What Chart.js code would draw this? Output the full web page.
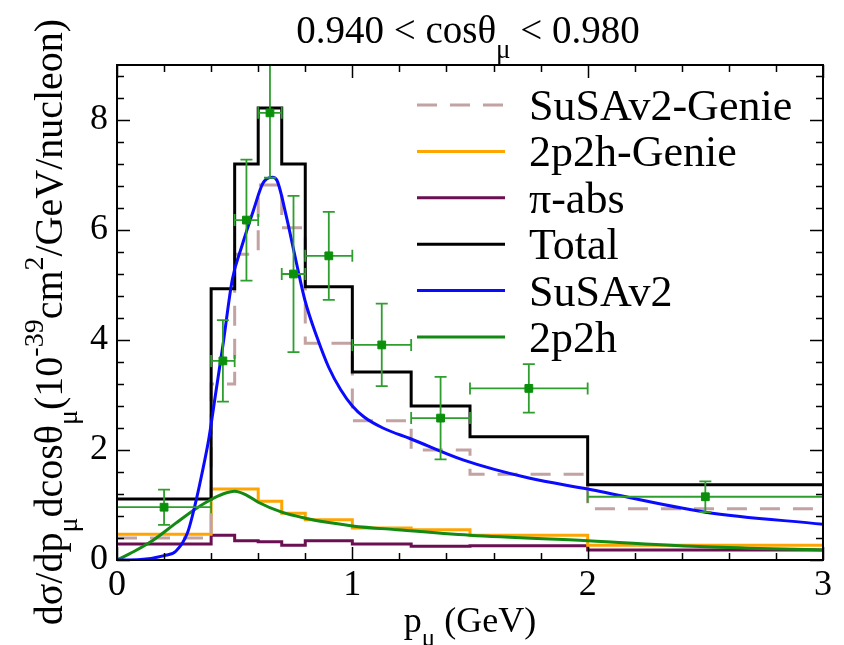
<!DOCTYPE html>
<html>
<head>
<meta charset="utf-8">
<script src="https://cdn.jsdelivr.net/npm/chart.js@4.4.1/dist/chart.umd.min.js"></script>
<style>
  html, body { margin: 0; padding: 0; background: #fff; }
  #wrap { width: 844px; height: 645px; }
</style>
</head>
<body>
<div id="wrap"><canvas id="chart" width="844" height="645"></canvas></div>
<script>
// histogram bin edges (GeV) and per-bin values
const binEdges = [0, 0.4, 0.5, 0.6, 0.7, 0.8, 1.0, 1.25, 1.5, 2.0, 3.0];
const totalHist = [1.11, 4.93, 7.2, 8.22, 7.2, 4.97, 3.42, 2.8, 2.24, 1.37];
const susaGenieHist = [0.4, 3.2, 5.56, 6.82, 6.04, 3.94, 2.53, 2.0, 1.56, 0.93];
const mecGenieHist = [0.47, 1.29, 1.29, 1.07, 0.85, 0.73, 0.58, 0.55, 0.45, 0.27];
const piAbsHist = [0.29, 0.45, 0.35, 0.33, 0.27, 0.35, 0.29, 0.25, 0.26, 0.18];

// smooth curves
const susaX = [0, 0.1, 0.2, 0.25, 0.3, 0.33, 0.36, 0.39, 0.42, 0.45, 0.49, 0.53, 0.58, 0.62, 0.66, 0.68, 0.72, 0.76, 0.8, 0.85, 0.9, 0.95, 1.0, 1.05, 1.13, 1.25, 1.47, 1.75, 2.0, 2.5, 3.0];
const susaY = [0, 0.01, 0.08, 0.16, 0.5, 0.97, 1.55, 2.2, 3.05, 3.9, 5.1, 5.7, 6.36, 6.85, 6.96, 6.9, 6.24, 5.45, 4.7, 4.05, 3.5, 3.1, 2.8, 2.6, 2.4, 2.2, 1.82, 1.49, 1.29, 0.87, 0.65];
const mecX = [0, 0.07, 0.15, 0.25, 0.33, 0.4, 0.45, 0.5, 0.55, 0.6, 0.7, 0.8, 0.9, 1.0, 1.19, 1.5, 2.0, 2.5, 3.0];
const mecY = [0, 0.15, 0.35, 0.67, 0.92, 1.1, 1.2, 1.25, 1.18, 1.05, 0.87, 0.76, 0.68, 0.62, 0.55, 0.45, 0.35, 0.24, 0.18];

// measured points
const dataX = [0.2, 0.45, 0.55, 0.65, 0.75, 0.9, 1.125, 1.375, 1.75, 2.5];
const dataY = [0.96, 3.62, 6.18, 8.13, 5.2, 5.53, 3.91, 2.58, 3.12, 1.15];
const dataYErr = [0.32, 0.74, 1.1, 1.18, 1.42, 0.8, 0.75, 0.75, 0.44, 0.28];
const dataXLo = [0, 0.4, 0.5, 0.6, 0.7, 0.8, 1.0, 1.25, 1.5, 2.0];
const dataXHi = [0.4, 0.5, 0.6, 0.7, 0.8, 1.0, 1.25, 1.5, 2.0, 3.0];

const serif = 'Liberation Serif';

const histPoints = (vals) => binEdges.map((e, i) => ({ x: e, y: vals[Math.min(i, vals.length - 1)] }));
const curvePoints = (xs, ys) => xs.map((x, i) => ({ x: x, y: ys[i] }));

// rich text: [text, 0 normal | 1 sub | 2 sup]
function segFont(size, mode) {
	return (mode ? Math.round(size * 0.7) : size) + 'px "' + serif + '"';
}
function richWidth(ctx, segs, size) {
	let w = 0;
	segs.forEach(s => { ctx.font = segFont(size, s[1]); w += ctx.measureText(s[0]).width; });
	return w;
}
function drawRich(ctx, segs, x, y, size) {
	let cx = x - richWidth(ctx, segs, size) / 2;
	ctx.textAlign = 'left';
	ctx.textBaseline = 'alphabetic';
	segs.forEach(s => {
		ctx.font = segFont(size, s[1]);
		let dy = 0;
		if (s[1] === 1) dy = size * 0.38;
		if (s[1] === 2) dy = -size * 0.48;
		ctx.fillText(s[0], cx, y + dy);
		cx += ctx.measureText(s[0]).width;
	});
}

const decor = {
	id: 'decor',
	beforeDatasetDraw(chart, args) {
		const ds = chart.data.datasets[args.index];
		if (!ds.isData) return;
		const ctx = chart.ctx;
		const xs = chart.scales.x, ys = chart.scales.y;
		const a = chart.chartArea;
		ctx.save();
		ctx.beginPath();
		ctx.rect(a.left, a.top, a.right - a.left, a.bottom - a.top);
		ctx.clip();
		ctx.strokeStyle = '#2e9e2e';
		ctx.lineWidth = 1.8;
		const cap = 6;
		dataX.forEach((x, i) => {
			const px = xs.getPixelForValue(x);
			const py = ys.getPixelForValue(dataY[i]);
			const yTop = ys.getPixelForValue(dataY[i] + dataYErr[i]);
			const yBot = ys.getPixelForValue(dataY[i] - dataYErr[i]);
			const xL = xs.getPixelForValue(dataXLo[i]);
			const xR = xs.getPixelForValue(dataXHi[i]);
			ctx.beginPath();
			ctx.moveTo(px, yTop); ctx.lineTo(px, yBot);
			ctx.moveTo(px - cap, yTop); ctx.lineTo(px + cap, yTop);
			ctx.moveTo(px - cap, yBot); ctx.lineTo(px + cap, yBot);
			ctx.moveTo(xL, py); ctx.lineTo(xR, py);
			ctx.moveTo(xL, py - cap); ctx.lineTo(xL, py + cap);
			ctx.moveTo(xR, py - cap); ctx.lineTo(xR, py + cap);
			ctx.stroke();
		});
		ctx.restore();
	},
	afterDraw(chart) {
		const ctx = chart.ctx;
		const a = chart.chartArea;
		const xs = chart.scales.x, ys = chart.scales.y;
		ctx.save();
		// frame and inward ticks
		ctx.strokeStyle = '#000';
		ctx.lineWidth = 2;
		ctx.strokeRect(a.left, a.top, a.right - a.left, a.bottom - a.top);
		ctx.lineWidth = 1.5;
		ctx.beginPath();
		for (let v = 0; v <= 3.001; v += 0.2) {
			const px = Math.round(xs.getPixelForValue(v)) + 0.5;
			const len = Math.abs(v - Math.round(v)) < 0.01 ? 13 : 7;
			ctx.moveTo(px, a.bottom); ctx.lineTo(px, a.bottom - len);
			ctx.moveTo(px, a.top); ctx.lineTo(px, a.top + len);
		}
		for (let v = 0; v <= 9.001; v += 0.4) {
			const py = Math.round(ys.getPixelForValue(v)) + 0.5;
			const len = Math.abs(v / 2 - Math.round(v / 2)) < 0.01 ? 13 : 7;
			ctx.moveTo(a.left, py); ctx.lineTo(a.left + len, py);
			ctx.moveTo(a.right, py); ctx.lineTo(a.right - len, py);
		}
		ctx.stroke();

		// legend
		let row = a.top + 40;
		chart.data.datasets.forEach(ds => {
			if (!ds.legendText) return;
			ctx.strokeStyle = ds.borderColor;
			ctx.lineWidth = ds.borderWidth;
			ctx.setLineDash(ds.borderDash || []);
			ctx.beginPath();
			ctx.moveTo(a.left + 300, row);
			ctx.lineTo(a.left + 388, row);
			ctx.stroke();
			ctx.setLineDash([]);
			ctx.fillStyle = '#000';
			ctx.font = '44px "' + serif + '"';
			ctx.textAlign = 'left';
			ctx.textBaseline = 'alphabetic';
			ctx.fillText(ds.legendText, a.left + 412, row + 15);
			row += 46.4;
		});

		// title and axis titles
		ctx.fillStyle = '#000';
		drawRich(ctx, [['0.940 < cosθ', 0], ['μ', 1], [' < 0.980', 0]], (a.left + a.right) / 2 - 2, 43, 39);
		drawRich(ctx, [['p', 0], ['μ', 1], [' (GeV)', 0]], (a.left + a.right) / 2, 632, 36);
		ctx.translate(62, 322);
		ctx.rotate(-Math.PI / 2);
		drawRich(ctx, [['dσ/dp', 0], ['μ', 1], ['dcosθ', 0], ['μ', 1], ['(10', 0], ['-39', 2], ['cm', 0], ['2', 2], ['/GeV/nucleon)', 0]], 0, 0, 40);
		ctx.restore();
	}
};

const ctxEl = document.getElementById('chart');

const chart = new Chart(ctxEl, {
	type: 'line',
	data: {
		datasets: [
			{
				label: 'data',
				isData: true,
				data: curvePoints(dataX, dataY),
				showLine: false,
				pointStyle: 'rect',
				pointRadius: 5.5,
				pointBackgroundColor: '#0a900a',
				pointBorderColor: '#0a900a',
				order: 0,
			},
			{
				label: 'SuSAv2-Genie',
				legendText: 'SuSAv2-Genie',
				data: histPoints(susaGenieHist),
				stepped: 'before',
				borderColor: '#c3a2a2',
				borderWidth: 3,
				borderDash: [20, 13],
				pointRadius: 0,
				order: 5,
			},
			{
				label: '2p2h-Genie',
				legendText: '2p2h-Genie',
				data: histPoints(mecGenieHist),
				stepped: 'before',
				borderColor: '#ffa500',
				borderWidth: 3,
				pointRadius: 0,
				order: 6,
			},
			{
				label: 'π-abs',
				legendText: 'π-abs',
				data: histPoints(piAbsHist),
				stepped: 'before',
				borderColor: '#6a0f52',
				borderWidth: 3,
				pointRadius: 0,
				order: 7,
			},
			{
				label: 'Total',
				legendText: 'Total',
				data: histPoints(totalHist),
				stepped: 'before',
				borderColor: '#000000',
				borderWidth: 3,
				pointRadius: 0,
				order: 4,
			},
			{
				label: 'SuSAv2',
				legendText: 'SuSAv2',
				data: curvePoints(susaX, susaY),
				cubicInterpolationMode: 'monotone',
				borderColor: '#0a0aff',
				borderWidth: 3,
				pointRadius: 0,
				order: 2,
			},
			{
				label: '2p2h',
				legendText: '2p2h',
				data: curvePoints(mecX, mecY),
				cubicInterpolationMode: 'monotone',
				borderColor: '#138a13',
				borderWidth: 3,
				pointRadius: 0,
				order: 3,
			},
		],
	},
	options: {
		responsive: false,
		animation: false,
		layout: { padding: { left: 0, right: 21, top: 65, bottom: 0 } },
		plugins: {
			legend: { display: false },
			tooltip: { enabled: false },
			title: { display: false },
		},
		scales: {
			x: {
				type: 'linear',
				min: 0,
				max: 3,
				grid: { display: false, drawTicks: false },
				border: { display: false },
				ticks: {
					stepSize: 1,
					includeBounds: false,
					padding: 4,
					color: '#000',
					font: { family: serif, size: 36 },
					maxRotation: 0,
				},
				afterFit: (s) => { s.height = 85; },
			},
			y: {
				min: 0,
				max: 9,
				grid: { display: false, drawTicks: false },
				border: { display: false },
				ticks: {
					stepSize: 2,
					includeBounds: false,
					padding: 9,
					color: '#000',
					font: { family: serif, size: 36 },
				},
				afterFit: (s) => { s.width = 117; },
			},
		},
	},
	plugins: [decor],
});
</script>
</body>
</html>
